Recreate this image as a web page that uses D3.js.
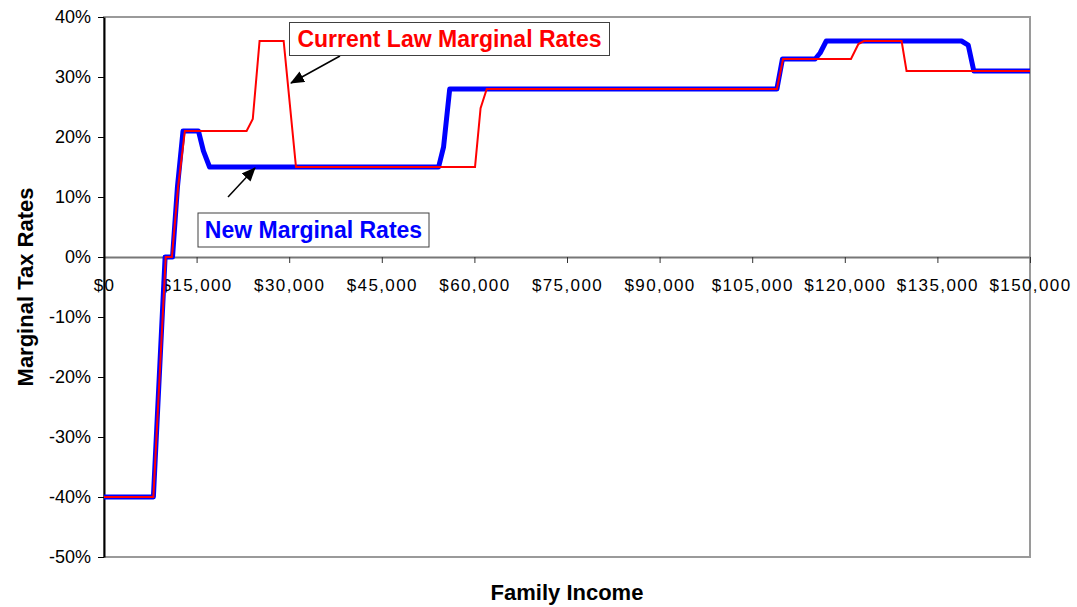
<!DOCTYPE html>
<html>
<head>
<meta charset="utf-8">
<script src="https://cdn.jsdelivr.net/npm/d3@7"></script>
<style>
    body { margin: 0; background: #fff; }
    text { font-family: "Liberation Sans", Arial, sans-serif; }
</style>
</head>
<body>
<div id="chart"></div>
<script>
// incomes ($) and marginal rates (%)
const incomeCurrent = [0, 8000, 10000, 11000, 12000, 13100, 23100, 24100, 25200, 29100, 31100, 60100, 61000, 62000, 109000, 110000, 121000, 122200, 123100, 129200, 130000, 150000];
const rateCurrent   = [-40, -40, 0, 0, 11.7, 21, 21, 23, 36, 36, 15, 15, 24.8, 28, 28, 33, 33, 35.5, 36, 36, 31, 31];

const incomeNew = [0, 8000, 9900, 11100, 11900, 12800, 15300, 16100, 17100, 54200, 55000, 56000, 109000, 109900, 115200, 116000, 117000, 138900, 140000, 140900, 150000];
const rateNew   = [-40, -40, 0, 0, 11.7, 21, 21, 17.7, 15, 15, 18.3, 28, 28, 33, 33, 34, 36, 36, 35.3, 31, 31];

const xTicks = [0, 15000, 30000, 45000, 60000, 75000, 90000, 105000, 120000, 135000, 150000];
const yTicks = [40, 30, 20, 10, 0, -10, -20, -30, -40, -50];

const width = 1077, height = 607;
const margin = { top: 17, right: 47, bottom: 50, left: 104 };

const svg = d3.select("#chart").append("svg")
    .attr("width", width)
    .attr("height", height);

const x = d3.scaleLinear().domain([0, 150000]).range([margin.left, width - margin.right]);
const y = d3.scaleLinear().domain([-50, 40]).range([height - margin.bottom, margin.top]);

// plot frame
svg.append("rect")
    .attr("x", x(0))
    .attr("y", y(40))
    .attr("width", x(150000) - x(0))
    .attr("height", y(-50) - y(40))
    .attr("fill", "none")
    .attr("stroke", "#9a9a9a")
    .attr("stroke-width", 2);

// x axis sits on 0%
const xAxis = svg.append("g")
    .attr("transform", `translate(0,${y(0)})`)
    .call(d3.axisBottom(x).tickValues(xTicks).tickSize(6).tickSizeOuter(0).tickFormat(d3.format("$,")));
xAxis.select(".domain").attr("stroke", "#777").attr("stroke-width", 2);
xAxis.selectAll(".tick line").attr("stroke", "#333");
xAxis.selectAll(".tick text")
    .attr("y", 22)
    .style("font-size", "17px")
    .style("letter-spacing", "1.4px")
    .attr("fill", "#000");

const yAxis = svg.append("g")
    .attr("transform", `translate(${x(0)},0)`)
    .call(d3.axisLeft(y).tickValues(yTicks).tickSize(6).tickSizeOuter(0).tickFormat(d => d + "%"));
yAxis.select(".domain").attr("stroke", "#000").attr("stroke-width", 2);
yAxis.selectAll(".tick line").attr("stroke", "#000");
yAxis.selectAll(".tick text")
    .attr("x", -13)
    .style("font-size", "18px")
    .attr("fill", "#000");

// axis titles
svg.append("text")
    .attr("x", (x(0) + x(150000)) / 2)
    .attr("y", 600)
    .attr("text-anchor", "middle")
    .style("font-size", "22px")
    .style("font-weight", "bold")
    .text("Family Income");

svg.append("text")
    .attr("transform", `translate(33,${(y(40) + y(-50)) / 2}) rotate(-90)`)
    .attr("text-anchor", "middle")
    .style("font-size", "22px")
    .style("font-weight", "bold")
    .text("Marginal Tax Rates");

// lines
const line = d3.line().x(d => x(d[0])).y(d => y(d[1]));

svg.append("path")
    .datum(d3.zip(incomeNew, rateNew))
    .attr("fill", "none")
    .attr("stroke", "#0000ff")
    .attr("stroke-width", 5)
    .attr("stroke-linejoin", "round")
    .attr("d", line);

svg.append("path")
    .datum(d3.zip(incomeCurrent, rateCurrent))
    .attr("fill", "none")
    .attr("stroke", "#ff0000")
    .attr("stroke-width", 2)
    .attr("d", line);

// annotations
svg.append("defs").append("marker")
    .attr("id", "head")
    .attr("viewBox", "0 0 14 12")
    .attr("refX", 13)
    .attr("refY", 6)
    .attr("markerWidth", 14)
    .attr("markerHeight", 12)
    .attr("markerUnits", "userSpaceOnUse")
    .attr("orient", "auto")
    .append("path")
    .attr("d", "M0,0 L14,6 L0,12 z")
    .attr("fill", "#000");

function note(bx, by, bw, bh, label, color, from, to) {
    svg.append("line")
        .attr("x1", from[0]).attr("y1", from[1])
        .attr("x2", to[0]).attr("y2", to[1])
        .attr("stroke", "#000")
        .attr("stroke-width", 1.5)
        .attr("marker-end", "url(#head)");
    svg.append("rect")
        .attr("x", bx).attr("y", by)
        .attr("width", bw).attr("height", bh)
        .attr("fill", "#fff")
        .attr("stroke", "#404040")
        .attr("stroke-width", 1);
    svg.append("text")
        .attr("x", bx + bw / 2)
        .attr("y", by + bh - 9)
        .attr("text-anchor", "middle")
        .attr("fill", color)
        .style("font-size", "23px")
        .style("font-weight", "bold")
        .text(label);
}

note(289.5, 22.5, 320, 33, "Current Law Marginal Rates", "#ff0000", [340, 56], [291, 83]);
note(198, 213, 231, 34, "New Marginal Rates", "#0000ff", [228, 197], [255, 168]);
</script>
</body>
</html>
